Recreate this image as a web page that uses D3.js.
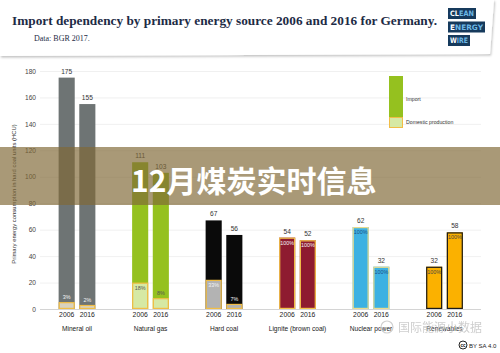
<!DOCTYPE html>
<html>
<head>
<meta charset="utf-8">
<script src="https://cdn.jsdelivr.net/npm/d3@7"></script>
<style>
  body { margin: 0; background: #fff; }
  svg { display: block; }
</style>
</head>
<body>
<figure id="chart" style="margin:0"></figure>
<script>
// values
const categories = ["Mineral oil", "Natural gas", "Hard coal", "Lignite (brown coal)", "Nuclear power", "Renewables"];
const years = ["2006", "2016"];
const totals2006 = [175, 111, 67, 54, 62, 32];
const totals2016 = [155, 103, 56, 52, 32, 58];
const domesticShare2006 = [3, 18, 33, 100, 100, 100];
const domesticShare2016 = [2, 8, 7, 100, 100, 100];
const yTicks = [0, 20, 40, 60, 80, 100, 120, 140, 160, 180];

const importColors = ["#6e7474", "#95c11f", "#0a0a0a", "#8e1b30", "#3cb1e2", "#fbb100"];
const domesticColors = ["#d8d2bf", "#d6e9a4", "#b3b3b3", "#8e1b30", "#3cb1e2", "#fbb100"];
const borderColors = ["#f1bd45", "#f1bd45", "#f1bd45", "#f3c24a", "#e9dc8e", "#1a1a1a"];
const pctColors = ["#f4f4f4", "#555", "#f4f4f4", "#f4f4f4", "#1c4f86", "#444"];

const W = 500, H = 353;
const svg = d3.select("#chart").append("svg")
  .attr("width", W).attr("height", H)
  .attr("viewBox", `0 0 ${W} ${H}`);

const rows = [];
categories.forEach((c, i) => {
  rows.push({ cat: c, year: years[0], i, total: totals2006[i], share: domesticShare2006[i] });
  rows.push({ cat: c, year: years[1], i, total: totals2016[i], share: domesticShare2016[i] });
});

// scales
const x0 = d3.scaleBand().domain(categories).range([40, 481]).paddingInner(0).paddingOuter(0);
const x1 = d3.scaleBand().domain(years).range([18, 56]).paddingInner(0.22).paddingOuter(0.03);
const y = d3.scaleLinear().domain([0, 180]).range([309, 71]);

const font = "'Liberation Sans', Arial, sans-serif";

// gridlines
const yAxis = svg.append("g")
  .attr("transform", "translate(40,0)")
  .call(d3.axisLeft(y).tickValues(yTicks).tickSize(-441).tickPadding(4));
yAxis.select(".domain").remove();
yAxis.selectAll(".tick line").attr("stroke", (d) => d === 0 ? "#c9c9c9" : "#ececec")
  .attr("stroke-width", 0.8);
yAxis.selectAll(".tick text").attr("font-family", font).attr("font-size", 6.6)
  .attr("fill", "#444").attr("dy", "0.32em");

svg.append("text")
  .attr("transform", `translate(16,${(y(0) + y(180)) / 2 + 4}) rotate(-90)`)
  .attr("text-anchor", "middle")
  .attr("font-family", font).attr("font-size", 5.9).attr("fill", "#333")
  .text("Primary energy consumption in hard coal units (HCU)");

// bars
const bars = svg.append("g").selectAll("g.bar").data(rows).enter().append("g")
  .attr("class", "bar")
  .attr("transform", (d) => `translate(${x0(d.cat) + x1(d.year)},0)`);
const bw = x1.bandwidth();

bars.append("rect")
  .attr("x", 0).attr("width", bw)
  .attr("y", (d) => y(d.total))
  .attr("height", (d) => y(0) - y(d.total))
  .attr("fill", (d) => importColors[d.i]);

const dom = (d) => d.total * d.share / 100;
bars.append("rect")
  .attr("x", 0.6).attr("width", bw - 1.2)
  .attr("y", (d) => y(dom(d)) + 0.6)
  .attr("height", (d) => y(0) - y(dom(d)) - 1.2)
  .attr("fill", (d) => domesticColors[d.i])
  .attr("stroke", (d) => borderColors[d.i])
  .attr("stroke-width", 1.2);

// totals above bars
bars.append("text")
  .attr("x", bw / 2).attr("y", (d) => y(d.total) - 4)
  .attr("text-anchor", "middle")
  .attr("font-family", font).attr("font-size", 6.6).attr("fill", "#333")
  .text((d) => d.total);

// domestic share labels
bars.append("text")
  .attr("x", bw / 2)
  .attr("y", (d) => (y(0) - y(dom(d)) > 12) ? y(dom(d)) + 7 : y(dom(d)) - 3)
  .attr("text-anchor", "middle")
  .attr("font-family", font).attr("font-size", 5.4)
  .attr("fill", (d) => (d.i === 1 && d.year === "2016") ? "#555" : pctColors[d.i])
  .text((d) => d.share + "%");

// x axis labels
const xg = svg.append("g");
xg.selectAll("text.yr").data(rows).enter().append("text")
  .attr("x", (d) => x0(d.cat) + x1(d.year) + bw / 2)
  .attr("y", 317)
  .attr("text-anchor", "middle")
  .attr("font-family", font).attr("font-size", 6.8).attr("fill", "#222")
  .text((d) => d.year);
xg.selectAll("text.cat").data(categories).enter().append("text")
  .attr("x", (d) => x0(d) + x1("2006") + (x1("2016") + bw - x1("2006")) / 2)
  .attr("y", 331)
  .attr("text-anchor", "middle")
  .attr("font-family", font).attr("font-size", 6.6).attr("fill", "#222")
  .text((d) => d);

// legend
const lg = svg.append("g").attr("transform", "translate(389,76)");
lg.append("rect").attr("width", 14).attr("height", 41).attr("fill", importColors[1]);
lg.append("rect").attr("x", 0.5).attr("y", 41.5).attr("width", 13).attr("height", 10)
  .attr("fill", domesticColors[1]).attr("stroke", borderColors[1]).attr("stroke-width", 1);
lg.append("text").attr("x", 17).attr("y", 25).attr("font-family", font)
  .attr("font-size", 5.2).attr("fill", "#333").text("Import");
lg.append("text").attr("x", 17).attr("y", 48).attr("font-family", font)
  .attr("font-size", 5.2).attr("fill", "#333").text("Domestic production");

// header card
const defs = svg.append("defs");
const f = defs.append("filter").attr("id", "sh").attr("x", "-5%").attr("y", "-20%")
  .attr("width", "110%").attr("height", "150%");
f.append("feDropShadow").attr("dx", 1).attr("dy", 1.5).attr("stdDeviation", 1.2)
  .attr("flood-color", "#000").attr("flood-opacity", 0.25);
svg.append("path")
  .attr("d", "M0,0 L494,0 L490,54 L0,56 Z")
  .attr("fill", "#fff").attr("filter", "url(#sh)");

svg.append("text")
  .attr("x", 12).attr("y", 25)
  .attr("font-family", "'Liberation Serif', 'DejaVu Serif', serif")
  .attr("font-weight", "bold").attr("font-size", 12.6).attr("fill", "#1d2b45")
  .attr("textLength", 425).attr("lengthAdjust", "spacingAndGlyphs")
  .text("Import dependency by primary energy source 2006 and 2016 for Germany.");
svg.append("text")
  .attr("x", 34).attr("y", 41)
  .attr("font-family", "'Liberation Serif', serif")
  .attr("font-size", 8).attr("fill", "#1d2b45")
  .text("Data: BGR 2017.");

// logo
const logoRows = [["CL", "EAN", 28], ["E", "NERGY", 37], ["W", "IRE", 22]];
const logo = svg.append("g").attr("transform", "translate(448,8)");
logoRows.forEach((r, k) => {
  const g = logo.append("g").attr("transform", `translate(0,${k * 13.5})`);
  g.append("rect").attr("width", r[2]).attr("height", 11).attr("fill", "#163a5c");
  const t = g.append("text").attr("x", 2).attr("y", 8.4)
    .attr("font-family", "'DejaVu Sans Condensed', 'DejaVu Sans', sans-serif")
    .attr("font-weight", "bold").attr("font-size", 7.4)
    .attr("textLength", r[2] - 4).attr("lengthAdjust", "spacingAndGlyphs");
  t.append("tspan").attr("fill", "#fff").text(r[0]);
  t.append("tspan").attr("fill", "#6cb7e6").text(r[1]);
});

// overlay banner
svg.append("rect").attr("x", 0).attr("y", 147).attr("width", W).attr("height", 58)
  .attr("fill", "rgb(128,105,55)").attr("opacity", 0.68);
svg.append("text")
  .attr("x", 131).attr("y", 192)
  .attr("font-family", "'Noto Sans CJK SC', sans-serif").attr("font-weight", "bold")
  .attr("font-size", 30).attr("fill", "#fff")
  .text("12月煤炭实时信息");

// watermark
svg.append("text")
  .attr("x", 398).attr("y", 332)
  .attr("font-family", "'Noto Sans CJK SC', sans-serif")
  .attr("font-size", 12).attr("fill", "#c9c9c9").attr("opacity", 0.9)
  .text("国际能源小数据");
svg.append("circle").attr("cx", 387).attr("cy", 327).attr("r", 6)
  .attr("fill", "none").attr("stroke", "#d0d0d0").attr("stroke-width", 1.2);
svg.append("circle").attr("cx", 463).attr("cy", 345).attr("r", 4)
  .attr("fill", "none").attr("stroke", "#222").attr("stroke-width", 1);
svg.append("text").attr("x", 463).attr("y", 347).attr("text-anchor", "middle")
  .attr("font-family", font).attr("font-size", 4.5).attr("font-weight", "bold").text("cc");
svg.append("text").attr("x", 469).attr("y", 348)
  .attr("font-family", font).attr("font-size", 6).attr("fill", "#222").text("BY SA 4.0");
</script>
</body>
</html>
